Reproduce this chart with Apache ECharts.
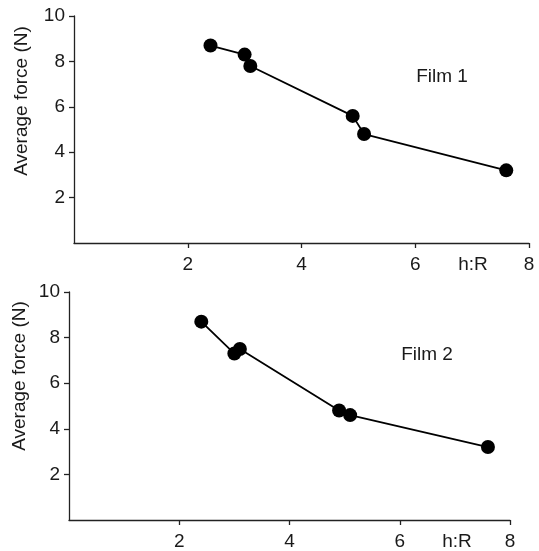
<!DOCTYPE html>
<html>
<head>
<meta charset="utf-8">
<script src="https://cdn.jsdelivr.net/npm/echarts@6/dist/echarts.min.js"></script>
<style>html,body{margin:0;padding:0;background:#fff;}#c{width:539px;height:551px;}</style>
</head>
<body>
<div id="c"></div>
<script>
const film1HR = [2.4, 3.0, 3.1, 4.9, 5.1, 7.6];
const film1Force = [8.7, 8.3, 7.8, 5.6, 4.8, 3.2];
const film2HR = [2.4, 3.0, 3.1, 4.9, 5.1, 7.6];
const film2Force = [8.7, 7.3, 7.5, 4.8, 4.6, 3.2];
const xTicks = [2, 4, 6, 8];
const yTicks = [2, 4, 6, 8, 10];
const xTitle = 'h:R';
const yTitle = 'Average force (N)';
const filmLabels = ['Film 1', 'Film 2'];

const FONT = 'Liberation Sans, Arial, sans-serif';
const TXT = '#1a1a1a';
const chart = echarts.init(document.getElementById('c'));

function xAx(gi) {
  return {
    type: 'value', gridIndex: gi, min: 0, max: 8,
    axisLine: { show: true, lineStyle: { color: '#222', width: 1.3 } },
    axisTick: { show: true, length: 5, customValues: xTicks, lineStyle: { color: '#222', width: 1.3 } },
    axisLabel: { customValues: xTicks, margin: 12, fontSize: 19, color: TXT, fontFamily: FONT },
    splitLine: { show: false }
  };
}
function yAx(gi) {
  return {
    type: 'value', gridIndex: gi, min: 0, max: 10,
    axisLine: { show: true, lineStyle: { color: '#222', width: 1.3 } },
    axisTick: { show: true, length: 5, customValues: yTicks, lineStyle: { color: '#222', width: 1.3 } },
    axisLabel: { customValues: yTicks, margin: 9, fontSize: 19, color: TXT, fontFamily: FONT },
    splitLine: { show: false }
  };
}
function ser(i, xs, ys) {
  return {
    type: 'line', xAxisIndex: i, yAxisIndex: i,
    data: xs.map((x, k) => [x, ys[k]]),
    symbol: 'circle', symbolSize: 14,
    itemStyle: { color: '#000' },
    lineStyle: { color: '#000', width: 1.8 },
    animation: false
  };
}
function txt(x, y, s, rot) {
  return {
    type: 'text', x: x, y: y, rotation: rot || 0,
    style: { text: s, fontSize: 19, fontFamily: FONT, fill: TXT, align: 'center', verticalAlign: 'middle' }
  };
}

chart.setOption({
  animation: false,
  grid: [
    { left: 74, right: 10, top: 16, bottom: 308 },
    { left: 69, right: 29, top: 292, bottom: 31 }
  ],
  xAxis: [xAx(0), xAx(1)],
  yAxis: [yAx(0), yAx(1)],
  series: [ser(0, film1HR, film1Force), ser(1, film2HR, film2Force)],
  graphic: [
    txt(22, 101, yTitle, Math.PI / 2),
    txt(20, 376, yTitle, Math.PI / 2),
    txt(442, 77, filmLabels[0]),
    txt(427, 355, filmLabels[1]),
    txt(473, 265, xTitle),
    txt(457, 542, xTitle)
  ]
});
</script>
</body>
</html>
